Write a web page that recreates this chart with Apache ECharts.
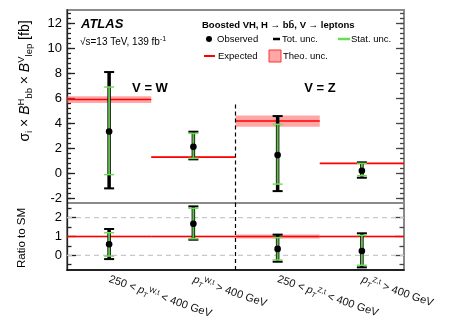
<!DOCTYPE html>
<html>
<head>
<meta charset="utf-8">
<script src="https://cdn.jsdelivr.net/npm/echarts@6/dist/echarts.min.js"></script>
<style>
  html, body { margin: 0; padding: 0; background: #fff; }
  #chart { width: 449px; height: 322px; }
</style>
</head>
<body>
<div id="chart"></div>
<script>
// bins: W low, W high, Z low, Z high
var bins = ['250 < {it|p}{sub|T}{sup|W,t} < 400 GeV', '{it|p}{sub|T}{sup|W,t} > 400 GeV',
            '250 < {it|p}{sub|T}{sup|Z,t} < 400 GeV', '{it|p}{sub|T}{sup|Z,t} > 400 GeV'];

// top panel, fb
var obsXs    = [3.35, 2.13, 1.46, 0.21];
var totUp    = [8.1, 3.33, 4.58, 0.88];
var totDn    = [-1.2, 1.12, -1.42, -0.35];
var statUp   = [6.9, 3.2, 3.92, 0.8];
var statDn   = [-0.1, 1.2, -0.86, -0.19];
var expXs    = [5.9, 1.3, 4.18, 0.8];
var theoUnc  = [0.27, 0.05, 0.45, 0.03];

// ratio panel
var obsRatio    = [0.585, 1.68, 0.34, 0.23];
var ratioTotUp  = [1.4, 2.6, 1.1, 1.17];
var ratioTotDn  = [-0.2, 0.83, -0.34, -0.64];
var ratioStatUp = [1.2, 2.5, 0.94, 1.06];
var ratioStatDn = [-0.04, 0.88, -0.25, -0.53];
var refLines    = [0, 2];

// axis ticks
var topMajor = [-2, 0, 2, 4, 6, 8, 10, 12];
var ratioMajor = [0, 1, 2];
var topMinor = [];
for (var t = -2; t <= 13; t += 0.4) topMinor.push(+t.toFixed(1));
var ratioMinor = [-0.5, 0.5, 1.5, 2.5];

var FONT = '"Liberation Sans", Arial, sans-serif';
var GREEN = '#62bd4f';

var chart = echarts.init(document.getElementById('chart'));

function renderExpected(params, api) {
    var i = api.value(0), v = api.value(1), u = api.value(2);
    var c = api.coord([i, v]);
    var w = api.size([1, 0])[0];
    var top = api.coord([i, v + u])[1];
    var bot = api.coord([i, v - u])[1];
    return {
        type: 'group',
        children: [
            { type: 'rect', shape: { x: c[0] - w / 2, y: top, width: w, height: Math.max(bot - top, 0.5) },
              style: { fill: 'rgba(255,80,80,0.5)' } },
            { type: 'line', shape: { x1: c[0] - w / 2, y1: c[1], x2: c[0] + w / 2, y2: c[1] },
              style: { stroke: '#ff0000', lineWidth: 1.6 } }
        ]
    };
}

function renderErr(params, api) {
    var i = api.value(0);
    var p = api.coord([i, api.value(1)]);
    var tu = api.coord([i, api.value(2)])[1], td = api.coord([i, api.value(3)])[1];
    var su = api.coord([i, api.value(4)])[1], sd = api.coord([i, api.value(5)])[1];
    var x = p[0], hw = 5;
    return {
        type: 'group',
        children: [
            { type: 'line', shape: { x1: x, y1: tu, x2: x, y2: td }, style: { stroke: '#000', lineWidth: 3.5 } },
            { type: 'line', shape: { x1: x - hw, y1: tu, x2: x + hw, y2: tu }, style: { stroke: '#000', lineWidth: 2 } },
            { type: 'line', shape: { x1: x - hw, y1: td, x2: x + hw, y2: td }, style: { stroke: '#000', lineWidth: 2 } },
            { type: 'line', shape: { x1: x, y1: su, x2: x, y2: sd }, style: { stroke: GREEN, lineWidth: 2 } },
            { type: 'line', shape: { x1: x - hw, y1: su, x2: x + hw, y2: su }, style: { stroke: '#70dd5a', lineWidth: 1.5 } },
            { type: 'line', shape: { x1: x - hw, y1: sd, x2: x + hw, y2: sd }, style: { stroke: '#70dd5a', lineWidth: 1.5 } },
            { type: 'circle', shape: { cx: x, cy: p[1], r: 3.3 }, style: { fill: '#000' } }
        ]
    };
}

function renderDivider(params, api) {
    var cs = params.coordSys;
    var c = api.coord([1, api.value(1)]);
    var w = api.size([1, 0])[0];
    var x = c[0] + w / 2;
    return { type: 'line', shape: { x1: x, y1: c[1], x2: x, y2: cs.y + cs.height },
             style: { stroke: '#000', lineWidth: 1.2, lineDash: [4, 3] } };
}

function renderRef(params, api) {
    var cs = params.coordSys;
    var y = api.coord([0, api.value(1)])[1];
    return { type: 'line', shape: { x1: cs.x, y1: y, x2: cs.x + cs.width, y2: y },
             style: { stroke: '#c8c8c8', lineWidth: 1.2, lineDash: [5, 4] } };
}

function yAxes(grid, min, max, major, minor, showLabel, majLen, minLen) {
    var base = {
        gridIndex: grid, type: 'value', min: min, max: max, splitLine: { show: false }
    };
    return [
        Object.assign({}, base, {
            position: 'left',
            axisLine: { show: true, lineStyle: { color: '#222', width: 1.3 } },
            axisTick: { show: true, inside: true, length: majLen, customValues: major, lineStyle: { color: '#222', width: 1.3 } },
            axisLabel: { show: showLabel, customValues: major, margin: 5, color: '#000', fontSize: 13, fontFamily: FONT }
        }),
        Object.assign({}, base, {
            position: 'left',
            axisLine: { show: false },
            axisTick: { show: true, inside: true, length: minLen, customValues: minor, lineStyle: { color: '#222', width: 1.3 } },
            axisLabel: { show: false }
        }),
        Object.assign({}, base, {
            position: 'right',
            axisLine: { show: false },
            axisTick: { show: true, inside: true, length: majLen, customValues: major, lineStyle: { color: '#444', width: 1.3 } },
            axisLabel: { show: false }
        }),
        Object.assign({}, base, {
            position: 'right',
            axisLine: { show: false },
            axisTick: { show: true, inside: true, length: minLen, customValues: minor, lineStyle: { color: '#444', width: 1.3 } },
            axisLabel: { show: false }
        })
    ];
}

var idx = [0, 1, 2, 3];

var option = {
    animation: false,
    grid: [
        { left: 67, top: 10, width: 337, height: 193, show: true, borderColor: '#8a8a8a', borderWidth: 2, backgroundColor: 'transparent' },
        { left: 67, top: 203, width: 337, height: 67, show: true, borderColor: '#8a8a8a', borderWidth: 2, backgroundColor: 'transparent' }
    ],
    xAxis: [
        { gridIndex: 0, type: 'category', data: bins, axisLine: { show: false, onZero: false }, axisTick: { show: false }, axisLabel: { show: false } },
        { gridIndex: 1, type: 'category', data: bins,
          axisLine: { show: true, onZero: false, lineStyle: { color: '#000', width: 1.5 } },
          axisTick: { show: false },
          axisLabel: {
              rotate: -19, margin: 9, color: '#111', fontSize: 11, fontFamily: FONT, interval: 0,
              rich: {
                  it: { fontSize: 11, fontStyle: 'italic', fontFamily: FONT, color: '#111' },
                  sub: { fontSize: 7, fontStyle: 'italic', verticalAlign: 'bottom', fontFamily: FONT, color: '#111', padding: [6, 0, 0, 0] },
                  sup: { fontSize: 7.5, verticalAlign: 'top', fontFamily: FONT, color: '#111', padding: [0, 0, 6, 0] }
              }
          } }
    ],
    yAxis: yAxes(0, -2.37, 13.06, topMajor, topMinor, true, 8, 4)
        .concat(yAxes(1, -0.78, 2.78, ratioMajor, ratioMinor, true, 9, 4.5)),
    series: [
        { type: 'custom', xAxisIndex: 1, yAxisIndex: 4, renderItem: renderRef, clip: false,
          data: refLines.map(function (v) { return [0, v]; }), z: 1 },
        { type: 'custom', xAxisIndex: 0, yAxisIndex: 0, renderItem: renderExpected, clip: false,
          data: idx.map(function (i) { return [i, expXs[i], theoUnc[i]]; }), z: 2 },
        { type: 'custom', xAxisIndex: 1, yAxisIndex: 4, renderItem: renderExpected, clip: false,
          data: idx.map(function (i) { return [i, 1, theoUnc[i] / expXs[i]]; }), z: 2 },
        { type: 'custom', xAxisIndex: 0, yAxisIndex: 0, renderItem: renderDivider, clip: false,
          data: [[1, 5.5]], z: 3 },
        { type: 'custom', xAxisIndex: 1, yAxisIndex: 4, renderItem: renderDivider, clip: false,
          data: [[1, 2.78]], z: 3 },
        { type: 'custom', xAxisIndex: 0, yAxisIndex: 0, renderItem: renderErr, clip: false,
          encode: { x: 0, y: [1, 2, 3] },
          data: idx.map(function (i) { return [i, obsXs[i], totUp[i], totDn[i], statUp[i], statDn[i]]; }), z: 4 },
        { type: 'custom', xAxisIndex: 1, yAxisIndex: 4, renderItem: renderErr, clip: false,
          encode: { x: 0, y: [1, 2, 3] },
          data: idx.map(function (i) { return [i, obsRatio[i], ratioTotUp[i], ratioTotDn[i], ratioStatUp[i], ratioStatDn[i]]; }), z: 4 }
    ],
    graphic: [
        // y axis titles
        { type: 'text', x: 25, y: 81, rotation: Math.PI / 2,
          style: { text: 'σ{sub|i} × {it|B}{sup|H}{sub|bb} × {it|B}{sup|V}{sub|lep} [fb]',
                   align: 'center', verticalAlign: 'middle', font: '14px ' + FONT, fill: '#000',
                   rich: {
                       it: { fontSize: 14, fontStyle: 'italic', fontFamily: FONT },
                       sub: { fontSize: 9.5, verticalAlign: 'bottom', fontFamily: FONT, padding: [8, 0, 0, 0] },
                       sup: { fontSize: 9.5, verticalAlign: 'top', fontFamily: FONT, padding: [0, 0, 8, 0] }
                   } } },
        { type: 'text', x: 22, y: 238, rotation: Math.PI / 2,
          style: { text: 'Ratio to SM', align: 'center', verticalAlign: 'middle', font: '11.5px ' + FONT, fill: '#000' } },
        // ATLAS label
        { type: 'text', x: 81, y: 24, style: { text: 'ATLAS', verticalAlign: 'middle', font: 'italic bold 13px ' + FONT, fill: '#000' } },
        { type: 'text', x: 80, y: 42, style: { text: '√s=13 TeV, 139 fb{sup|-1}', verticalAlign: 'middle', font: '10px ' + FONT, fill: '#000',
          rich: { sup: { fontSize: 7, verticalAlign: 'top', padding: [0, 0, 5, 0], fontFamily: FONT } } } },
        // region labels
        { type: 'text', x: 150, y: 88, style: { text: 'V = W', align: 'center', verticalAlign: 'middle', font: 'bold 13px ' + FONT, fill: '#000' } },
        { type: 'text', x: 320, y: 88, style: { text: 'V = Z', align: 'center', verticalAlign: 'middle', font: 'bold 13px ' + FONT, fill: '#000' } },
        // legend
        { type: 'text', x: 202, y: 25, style: { text: 'Boosted VH, H → bb\u0304, V → leptons', verticalAlign: 'middle', font: 'bold 9.5px ' + FONT, fill: '#000' } },
        { type: 'circle', shape: { cx: 209, cy: 39, r: 3 }, style: { fill: '#000' } },
        { type: 'text', x: 217, y: 39, style: { text: 'Observed', verticalAlign: 'middle', font: '9.5px ' + FONT, fill: '#000' } },
        { type: 'line', shape: { x1: 273, y1: 39, x2: 280, y2: 39 }, style: { stroke: '#000', lineWidth: 2.5 } },
        { type: 'text', x: 282, y: 39, style: { text: 'Tot. unc.', verticalAlign: 'middle', font: '9.5px ' + FONT, fill: '#000' } },
        { type: 'line', shape: { x1: 338, y1: 39, x2: 350, y2: 39 }, style: { stroke: '#66dd55', lineWidth: 2.5 } },
        { type: 'text', x: 351, y: 39, style: { text: 'Stat. unc.', verticalAlign: 'middle', font: '9.5px ' + FONT, fill: '#000' } },
        { type: 'line', shape: { x1: 204, y1: 56, x2: 215, y2: 56 }, style: { stroke: '#ff0000', lineWidth: 2 } },
        { type: 'text', x: 218, y: 56, style: { text: 'Expected', verticalAlign: 'middle', font: '9.5px ' + FONT, fill: '#000' } },
        { type: 'rect', shape: { x: 269, y: 50, width: 12, height: 12 }, style: { fill: 'rgba(255,80,80,0.5)', stroke: '#ff3030', lineWidth: 1 } },
        { type: 'text', x: 283, y: 56, style: { text: 'Theo. unc.', verticalAlign: 'middle', font: '9.5px ' + FONT, fill: '#000' } }
    ]
};

chart.setOption(option);
window.addEventListener('resize', chart.resize);
</script>
</body>
</html>
